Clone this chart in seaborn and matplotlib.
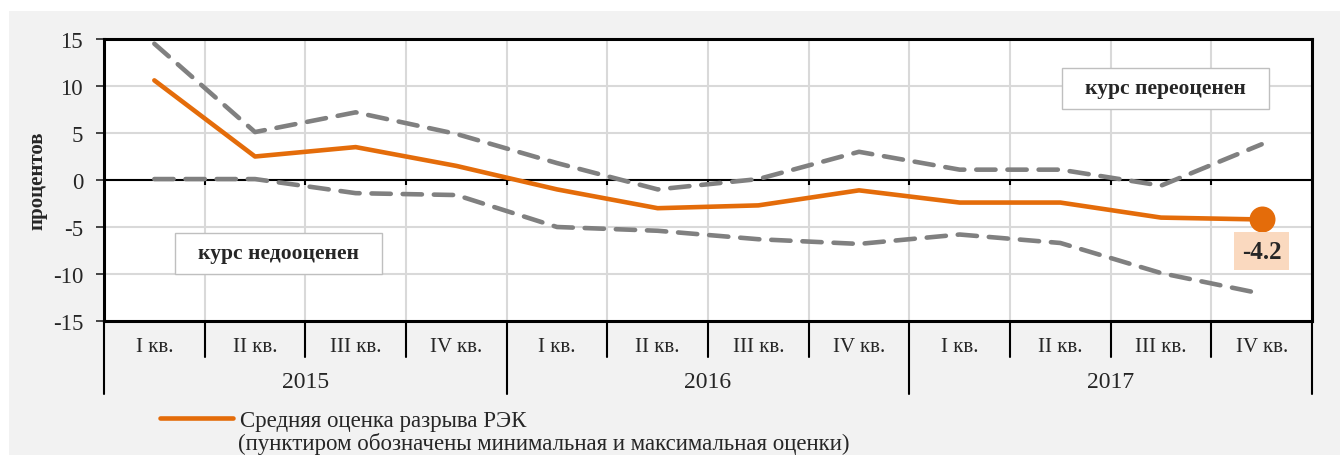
import pandas as pd
import matplotlib.pyplot as plt
import seaborn as sns
from matplotlib.patches import Rectangle
from matplotlib.lines import Line2D

# --- data ---
years = ["2015", "2016", "2017"]
quarters = ["I кв.", "II кв.", "III кв.", "IV кв."]
mean_gap = [10.6, 2.5, 3.5, 1.5, -1.0, -3.0, -2.7, -1.1, -2.4, -2.4, -4.0, -4.2]
max_gap = [14.5, 5.1, 7.2, 4.9, 1.8, -1.0, 0.1, 3.0, 1.1, 1.1, -0.6, 3.8]
min_gap = [0.1, 0.1, -1.4, -1.6, -5.0, -5.4, -6.3, -6.8, -5.8, -6.7, -9.9, -12.1]
y_ticks = [-15, -10, -5, 0, 5, 10, 15]

legend_line1 = "Средняя оценка разрыва РЭК"
legend_line2 = "(пунктиром обозначены минимальная и максимальная оценки)"

df = pd.DataFrame({
    "pos": range(len(mean_gap)),
    "mean": mean_gap,
    "max": max_gap,
    "min": min_gap,
})

sns.set_style("white")
plt.rcParams["font.family"] = ["Liberation Serif", "DejaVu Serif"]
plt.rcParams["axes.unicode_minus"] = False

orange = "#e46c0a"
grey = "#808080"

fig = plt.figure(figsize=(13.4, 4.56), dpi=100, facecolor="white")
# light grey panel behind the chart
fig.patches.append(Rectangle((9 / 1340, 0), 1, 1 - 12 / 456, transform=fig.transFigure,
                             facecolor="#f2f2f2", edgecolor="none", zorder=-10))

ax = fig.add_axes([104 / 1340, 1 - 322 / 456, 1208 / 1340, 282 / 456])
ax.set_facecolor("white")

n = len(mean_gap)
ax.set_xlim(-0.5, n - 0.5)
ax.set_ylim(-15, 15)

# grid
for b in [i - 0.5 for i in range(n + 1)]:
    ax.axvline(b, color="#d9d9d9", lw=1.5, zorder=0)
for t in y_ticks:
    ax.axhline(t, color="#d9d9d9", lw=1.5, zorder=0)
ax.axhline(0, color="black", lw=1.5, zorder=1)
ax.vlines([i - 0.5 for i in range(1, n)], -0.55, 0, color="black", lw=1.5, zorder=1)

# min / max dashed, mean solid
for col in ["max", "min"]:
    sns.lineplot(data=df, x="pos", y=col, ax=ax, color=grey, lw=3.3,
                 dashes=False, zorder=2)
for l in ax.lines[-2:]:
    l.set_dashes((4.2, 2.6))
    l.set_dash_capstyle("round")
sns.lineplot(data=df, x="pos", y="mean", ax=ax, color=orange, lw=3.3, zorder=3)
last = df.iloc[[-1]]
sns.scatterplot(data=last, x="pos", y="mean", ax=ax, color=orange, s=300,
                edgecolor=orange, zorder=4)

ax.annotate(f"{mean_gap[-1]:.1f}", xy=(df["pos"].iloc[-1], mean_gap[-1]),
            xytext=(0, -23), textcoords="offset points", ha="center", va="center",
            fontsize=18, fontweight="bold",
            bbox=dict(boxstyle="square,pad=0.3", facecolor="#fad9bf", edgecolor="none"),
            zorder=5)

# annotation boxes
for (x0, y0, label) in [(0.0588, 0.1667, "курс недооценен"), (0.793, 0.752, "курс переоценен")]:
    ax.add_patch(Rectangle((x0, y0), 0.1714, 0.1454, transform=ax.transAxes,
                           facecolor="white", edgecolor="#bfbfbf", lw=1, zorder=5))
    ax.text(x0 + 0.1714 / 2, y0 + 0.1454 / 2, label, transform=ax.transAxes,
            ha="center", va="center", fontsize=15.5, fontweight="bold", zorder=6)

# axes styling
for s in ax.spines.values():
    s.set_visible(True)
    s.set_color("black")
    s.set_linewidth(2.2)
ax.set_yticks(y_ticks)
ax.set_yticklabels([str(t) for t in y_ticks], fontsize=16.5)
ax.tick_params(axis="y", direction="out", length=6, width=1.2, left=True, pad=9)
ax.set_xticks([])
ax.set_xlabel("")
ax.set_ylabel("процентов", fontsize=15, fontweight="bold")
ax.yaxis.set_label_coords(-0.047, 0.5)

# two-level category axis
xt = ax.get_xaxis_transform()
for i in range(n + 1):
    depth = -0.259 if i % 4 == 0 else -0.128
    ax.add_line(Line2D([i - 0.5, i - 0.5], [0, depth], transform=xt, color="black",
                       lw=1.5, clip_on=False))
for i in range(n):
    ax.text(i, -0.089, quarters[i % 4], transform=xt, ha="center", va="center", fontsize=15)
for j, yr in enumerate(years):
    ax.text(j * 4 + 1.5, -0.216, yr, transform=xt, ha="center", va="center", fontsize=17)

# legend
handle = Line2D([], [], color=orange, lw=3.3)
fig.legend([handle], [legend_line1], loc="center left",
           bbox_to_anchor=(160 / 1340, 1 - 421 / 456), frameon=False, fontsize=16.5,
           handlelength=3.2, handletextpad=0.3, borderpad=0, borderaxespad=0)
fig.text(238 / 1340, 1 - 444 / 456, legend_line2, ha="left", va="center", fontsize=16.5)

fig.savefig("out.png", dpi=100, facecolor="white")
